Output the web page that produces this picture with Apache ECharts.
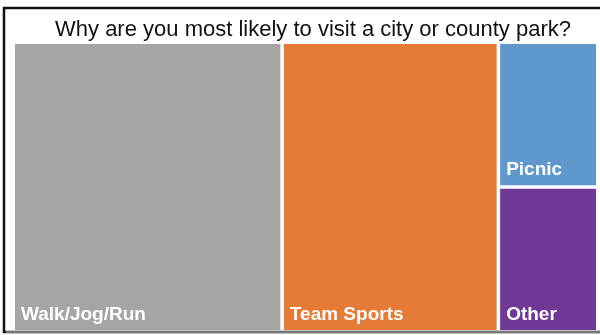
<!DOCTYPE html>
<html>
<head>
<meta charset="utf-8">
<script src="https://cdn.jsdelivr.net/npm/echarts@6/dist/echarts.min.js"></script>
<style>
  html, body { margin: 0; padding: 0; background: #fff; }
  #chart { width: 600px; height: 335px; }
</style>
</head>
<body>
<div id="chart"></div>
<script>
// Reasons for visiting a city or county park (share of responses)
const categories = ['Walk/Jog/Run', 'Team Sports', 'Picnic', 'Other'];
const shares = [46, 37, 8.5, 8.5];
const colors = ['#A5A5A5', '#E57B36', '#5E98CC', '#6F3896'];

const chart = echarts.init(document.getElementById('chart'), null, { renderer: 'canvas' });

const nodes = categories.map((name, i) => ({
  name: name,
  value: shares[i],
  itemStyle: { color: colors[i] }
}));

chart.setOption({
  animation: false,
  title: {
    text: 'Why are you most likely to visit a city or county park?',
    left: 308,
    textAlign: 'center',
    top: 14,
    textStyle: {
      fontFamily: 'Liberation Sans, Arial, sans-serif',
      fontSize: 22,
      fontWeight: 'normal',
      color: '#111'
    }
  },
  graphic: [{
    type: 'rect',
    shape: { x: 4, y: 8, width: 620, height: 324 },
    style: { fill: 'none', stroke: '#111', lineWidth: 2.5 },
    z: 100
  }, {
    type: 'line',
    shape: { x1: 6, y1: 332, x2: 600, y2: 332 },
    style: { stroke: '#dddddd', lineWidth: 1 },
    z: 100
  }],
  series: [{
    type: 'treemap',
    left: 15,
    top: 44,
    right: 4,
    bottom: 5,
    roam: false,
    nodeClick: false,
    breadcrumb: { show: false },
    sort: false,
    squareRatio: 0.5 * (1 + Math.sqrt(5)),
    levels: [{
      itemStyle: { gapWidth: 3.5, borderWidth: 0, borderColor: '#fff' }
    }],
    label: {
      show: true,
      position: 'insideBottomLeft',
      padding: [0, 0, 6, 6],
      color: '#fff',
      fontFamily: 'Liberation Sans, Arial, sans-serif',
      fontSize: 19,
      fontWeight: 'bold',
      formatter: '{b}'
    },
    itemStyle: { borderWidth: 0 },
    data: nodes
  }]
});
</script>
</body>
</html>
